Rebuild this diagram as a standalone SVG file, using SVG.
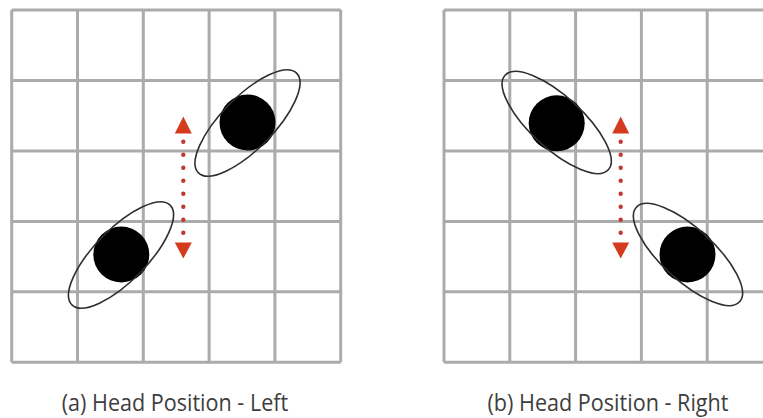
<svg xmlns="http://www.w3.org/2000/svg" width="763" height="418" viewBox="0 0 763 418">
  <style>
    .grid { fill: none; stroke: #ababab; stroke-width: 3; }
    .ring { fill: none; stroke: #2e2e2e; stroke-width: 1.6; }
    .head { fill: #000; }
    .dots { fill: none; stroke: #c03a34; stroke-width: 4.4; stroke-linecap: round; stroke-dasharray: 0 13; }
    .tip { fill: #d33a1e; }
    .caption { font-family: "Open Sans", "Noto Sans", sans-serif; font-size: 24.5px; fill: #3e3e3e; }
  </style>

  <rect width="763" height="418" fill="#fff"/>

  <!-- panel (a): 5x5 grid -->
  <g id="grid-a">
    <path class="grid" d="M11.7 10 V362.3 M77.5 10 V362.3 M143.3 10 V362.3 M209.1 10 V362.3 M274.9 10 V362.3 M340.7 10 V362.3
                          M11.7 10 H340.7 M11.7 80.5 H340.7 M11.7 150.9 H340.7 M11.7 221.4 H340.7 M11.7 291.8 H340.7 M11.7 362.3 H340.7"/>
  </g>

  <!-- panel (b): 5x5 grid, right edge runs past the canvas -->
  <g id="grid-b">
    <path class="grid" d="M444 10 V362.3 M509.8 10 V362.3 M575.6 10 V362.3 M641.4 10 V362.3 M707.2 10 V362.3 M773 10 V362.3
                          M444 10 H773 M444 80.5 H773 M444 150.9 H773 M444 221.4 H773 M444 291.8 H773 M444 362.3 H773"/>
  </g>

  <!-- panel (a) heads -->
  <g id="head-a-upper">
    <circle class="head" cx="247.5" cy="122.5" r="28"/>
    <ellipse class="ring" cx="247.5" cy="123" rx="70" ry="26" transform="rotate(-45.5 247.5 123)"/>
  </g>
  <g id="head-a-lower">
    <circle class="head" cx="121.3" cy="254.5" r="28"/>
    <ellipse class="ring" cx="121" cy="255" rx="70" ry="26" transform="rotate(-45.5 121 255)"/>
  </g>

  <!-- panel (b) heads -->
  <g id="head-b-upper">
    <circle class="head" cx="556.7" cy="123.3" r="28"/>
    <ellipse class="ring" cx="556.7" cy="122.5" rx="70" ry="26" transform="rotate(42.5 556.7 122.5)"/>
  </g>
  <g id="head-b-lower">
    <circle class="head" cx="687.5" cy="254.5" r="28"/>
    <ellipse class="ring" cx="688" cy="254.5" rx="70" ry="26" transform="rotate(42.5 688 254.5)"/>
  </g>

  <!-- vertical double-headed dotted arrows -->
  <g id="connectors">
    <g id="arrow-a">
      <path class="dots" d="M183.3 141.7 V233"/>
      <polygon class="tip" points="183.3,116.5 191.8,133.5 174.8,133.5"/>
      <polygon class="tip" points="174.8,242.5 191.8,242.5 183.3,258.5"/>
    </g>
    <g id="arrow-b">
      <path class="dots" d="M620.7 141.7 V233"/>
      <polygon class="tip" points="620.7,116.5 629.2,133.5 612.2,133.5"/>
      <polygon class="tip" points="612.2,242.5 629.2,242.5 620.7,258.5"/>
    </g>
  </g>

  <!-- captions -->
  <g id="caption-a">
    <text class="caption" x="61.7" y="411" textLength="226.5" lengthAdjust="spacingAndGlyphs">(a) Head Position - Left</text>
  </g>
  <g id="caption-b">
    <text class="caption" x="487.5" y="411" textLength="241" lengthAdjust="spacingAndGlyphs">(b) Head Position - Right</text>
  </g>
</svg>
